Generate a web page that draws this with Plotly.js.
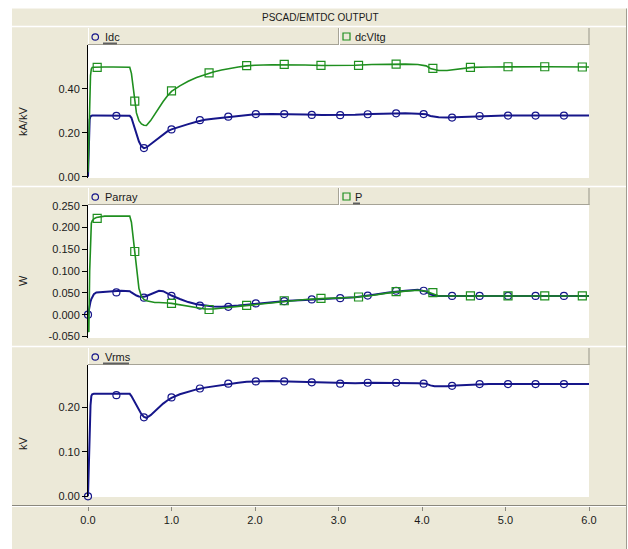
<!DOCTYPE html>
<html><head><meta charset="utf-8">
<script src="https://cdn.plot.ly/plotly-3.0.1.min.js"></script>
<style>html,body{margin:0;padding:0;background:#fff;} #chart{width:628px;height:549px;}</style>
</head><body><div id="chart"></div>
<script>
// ---------- data ----------
const T = [0, 0.01, 0.02, 0.03, 0.04, 0.05, 0.07, 0.1, 0.2, 0.3, 0.4, 0.5,
  0.52, 0.55, 0.58, 0.61, 0.64, 0.67, 0.7, 0.75, 0.8, 0.85, 0.9, 0.95, 1.0,
  1.1, 1.2, 1.3, 1.4, 1.5, 1.6, 1.7, 1.8, 1.9, 2.0, 2.2, 2.4, 2.6, 2.8, 3.0,
  3.2, 3.4, 3.6, 3.8, 3.95, 4.05, 4.1, 4.15, 4.2, 4.3, 4.4, 4.5, 4.6, 4.8, 5.0, 5.5, 6.0];

const Idc = [0.0, 0.17, 0.26, 0.275, 0.278, 0.278, 0.278, 0.278, 0.278, 0.277, 0.277, 0.277,
  0.268, 0.235, 0.195, 0.16, 0.138, 0.13, 0.133, 0.148, 0.165, 0.18, 0.195, 0.206, 0.215,
  0.228, 0.239, 0.25, 0.259, 0.264, 0.268, 0.273, 0.278, 0.282, 0.284, 0.285, 0.285, 0.283, 0.281, 0.28,
  0.282, 0.285, 0.288, 0.288, 0.286, 0.284, 0.276, 0.272, 0.27, 0.269, 0.27, 0.273, 0.275, 0.277, 0.278, 0.278, 0.278];

const dcVltg = [0.02, 0.18, 0.32, 0.46, 0.49, 0.497, 0.498, 0.499, 0.499, 0.499, 0.499, 0.498,
  0.47, 0.37, 0.29, 0.255, 0.24, 0.234, 0.233, 0.255, 0.285, 0.315, 0.342, 0.367, 0.388,
  0.413, 0.434, 0.451, 0.465, 0.476, 0.485, 0.493, 0.499, 0.504, 0.507, 0.509, 0.51, 0.508, 0.506, 0.506,
  0.507, 0.51, 0.512, 0.512, 0.51, 0.504, 0.492, 0.486, 0.483, 0.483, 0.488, 0.494, 0.497, 0.499, 0.5, 0.5, 0.499];

const Parray = [0.0, 0.012, 0.022, 0.03, 0.036, 0.041, 0.047, 0.051, 0.053, 0.054, 0.055, 0.054,
  0.051, 0.047, 0.044, 0.042, 0.041, 0.041, 0.043, 0.047, 0.052, 0.055, 0.054, 0.049, 0.044,
  0.036, 0.029, 0.024, 0.021, 0.019, 0.018, 0.019, 0.021, 0.023, 0.025, 0.029, 0.032, 0.034, 0.036, 0.038,
  0.04, 0.045, 0.051, 0.055, 0.057, 0.053, 0.047, 0.044, 0.043, 0.043, 0.043, 0.043, 0.043, 0.043, 0.043, 0.043, 0.043];

const P = [0.0, -0.04, 0.1, 0.19, 0.21, 0.215, 0.22, 0.223, 0.226, 0.226, 0.226, 0.226,
  0.212, 0.16, 0.11, 0.06, 0.042, 0.035, 0.032, 0.03, 0.028, 0.028, 0.028, 0.027, 0.026,
  0.023, 0.019, 0.016, 0.013, 0.013, 0.015, 0.017, 0.019, 0.021, 0.024, 0.028, 0.032, 0.035, 0.037, 0.039,
  0.04, 0.044, 0.05, 0.054, 0.056, 0.054, 0.05, 0.046, 0.043, 0.043, 0.043, 0.043, 0.043, 0.043, 0.043, 0.043, 0.043];

const Vrms = [0.0, 0.08, 0.17, 0.205, 0.226, 0.23, 0.231, 0.231, 0.231, 0.231, 0.231, 0.231,
  0.226, 0.216, 0.205, 0.194, 0.185, 0.179, 0.177, 0.183, 0.192, 0.201, 0.209, 0.216, 0.222,
  0.23, 0.236, 0.241, 0.245, 0.248, 0.251, 0.254, 0.256, 0.258, 0.259, 0.26, 0.259, 0.258, 0.256, 0.255,
  0.255, 0.256, 0.256, 0.256, 0.255, 0.254, 0.25, 0.248, 0.248, 0.248, 0.25, 0.251, 0.252, 0.253, 0.253, 0.253, 0.253];

// marker samples (circles / squares)
const tCirc = [0.34, 0.67, 1.0, 1.34, 1.68, 2.01, 2.35, 2.68, 3.02, 3.35, 3.69, 4.02, 4.36, 4.69, 5.03, 5.36, 5.70];
const IdcMk = [0.277, 0.13, 0.215, 0.257, 0.273, 0.285, 0.285, 0.281, 0.28, 0.284, 0.288, 0.285, 0.269, 0.276, 0.278, 0.278, 0.278];
const tCirc0 = [0, 0.34, 0.67, 1.0, 1.34, 1.68, 2.01, 2.35, 2.68, 3.02, 3.35, 3.69, 4.02, 4.36, 4.69, 5.03, 5.36, 5.70];
const ParrayMk = [0, 0.051, 0.039, 0.043, 0.021, 0.018, 0.026, 0.031, 0.035, 0.038, 0.044, 0.055, 0.055, 0.043, 0.043, 0.043, 0.043, 0.043];
const VrmsMk = [0, 0.228, 0.178, 0.223, 0.243, 0.254, 0.259, 0.259, 0.257, 0.254, 0.256, 0.256, 0.254, 0.249, 0.253, 0.253, 0.253, 0.253];
const tSq = [0.11, 0.56, 1.0, 1.45, 1.9, 2.35, 2.79, 3.24, 3.69, 4.13, 4.58, 5.03, 5.47, 5.92];
const dcVltgMk = [0.497, 0.344, 0.39, 0.472, 0.505, 0.511, 0.506, 0.506, 0.512, 0.493, 0.497, 0.5, 0.5, 0.499];
const PMk = [0.221, 0.145, 0.026, 0.012, 0.0215, 0.032, 0.0376, 0.0406, 0.0528, 0.0505, 0.043, 0.043, 0.043, 0.043];

// tick labels
const xTicks = [0, 1, 2, 3, 4, 5, 6];
const xLabels = ['0.0', '1.0', '2.0', '3.0', '4.0', '5.0', '6.0'];
const y1Ticks = [0, 0.2, 0.4];
const y1Labels = ['0.00', '0.20', '0.40'];
const y2Ticks = [-0.05, 0, 0.05, 0.1, 0.15, 0.2, 0.25];
const y2Labels = ['-0.050', '0.000', '0.050', '0.100', '0.150', '0.200', '0.250'];
const y3Ticks = [0, 0.1, 0.2];
const y3Labels = ['0.00', '0.10', '0.20'];

// ---------- style ----------
const W = 628, H = 549;
const px = x => x / W, py = y => 1 - y / H;
const BG = '#ECE9D8', BLUE = '#16168a', GREEN = '#1f8f1f', TXT = '#1a1a1a';
const FONT = 'Liberation Sans, Arial, sans-serif';

function lineTr(x, y, ya, color, w) {
  return {x, y, xaxis: 'x', yaxis: ya, type: 'scatter', mode: 'lines',
    line: {color, width: w}, hoverinfo: 'skip', showlegend: false};
}
function mkTr(x, y, ya, color, sym, sz) {
  return {x, y, xaxis: 'x', yaxis: ya, type: 'scatter', mode: 'markers', cliponaxis: false,
    marker: {symbol: sym, size: sz, color, line: {color, width: 1.2}}, hoverinfo: 'skip', showlegend: false};
}

const data = [
  lineTr(T, Idc, 'y', BLUE, 2), mkTr(tCirc, IdcMk, 'y', BLUE, 'circle-open', 7),
  lineTr(T, dcVltg, 'y', GREEN, 1.6), mkTr(tSq, dcVltgMk, 'y', GREEN, 'square-open', 8),
  lineTr(T, Parray, 'y2', BLUE, 2), mkTr(tCirc0, ParrayMk, 'y2', BLUE, 'circle-open', 7),
  lineTr(T, P, 'y2', GREEN, 1.6), mkTr(tSq, PMk, 'y2', GREEN, 'square-open', 8),
  lineTr(T, Vrms, 'y3', BLUE, 2), mkTr(tCirc0, VrmsMk, 'y3', BLUE, 'circle-open', 7)
];

function yax(top, bot, range, tv, tt) {
  return {domain: [py(bot), py(top)], range, anchor: 'x', showline: true, linecolor: '#000', linewidth: 1,
    ticks: 'outside', ticklen: 5, tickcolor: '#000', tickwidth: 1, tickvals: tv, ticktext: tt,
    showgrid: false, zeroline: false, fixedrange: true, automargin: false,
    tickfont: {family: FONT, size: 11, color: TXT}};
}

const shapes = [];
function rect(x0, y0, x1, y1, fill) {
  shapes.push({type: 'rect', xref: 'paper', yref: 'paper', x0: px(x0), x1: px(x1), y0: py(y1), y1: py(y0),
    fillcolor: fill, line: {width: 0}});
}
function ln(x0, y0, x1, y1, color, w) {
  shapes.push({type: 'line', xref: 'paper', yref: 'paper', x0: px(x0), x1: px(x1), y0: py(y0), y1: py(y1),
    line: {color, width: w}});
}
// outer white margins
rect(0, 0, 628, 8.5, '#fff');
rect(0, 0, 12, 549, '#fff');
rect(627, 0, 628, 549, '#fff');
ln(626.5, 8.5, 626.5, 549, '#a09d90', 1);
// separators
ln(12, 26.5, 626, 26.5, '#fff', 1.5);
ln(12, 186.5, 626, 186.5, '#fff', 1.5);
ln(12, 346.5, 626, 346.5, '#fff', 1.5);
ln(12, 505.5, 626, 505.5, '#8a887e', 1);
ln(12, 506.5, 626, 506.5, '#fff', 1);
// legend bars
const bars = [[28, 45, true], [188, 205, true], [348, 365, false]];
bars.forEach(([a, b, div]) => {
  ln(88.5, a, 88.5, b, '#fff', 1);
  ln(88, b - 0.5, 589.5, b - 0.5, '#a6a396', 1);
  ln(589, a, 589, b, '#a6a396', 1.2);
  if (div) {
    ln(338.5, a, 338.5, b, '#a6a396', 1);
    ln(339.5, a, 339.5, b, '#fff', 1);
  }
});
// legend symbols
const legY = [37, 197, 357];
[0, 1, 2].forEach(i => {
  const c = legY[i];
  shapes.push({type: 'circle', xref: 'paper', yref: 'paper', x0: px(92), x1: px(98.5), y0: py(c + 3.2), y1: py(c - 3.2),
    line: {color: BLUE, width: 1.2}, fillcolor: 'rgba(0,0,0,0)'});
});
[0, 1].forEach(i => {
  const c = legY[i] - 0.5;
  shapes.push({type: 'rect', xref: 'paper', yref: 'paper', x0: px(343), x1: px(350), y0: py(c + 3.5), y1: py(c - 3.5),
    line: {color: GREEN, width: 1.2}, fillcolor: 'rgba(0,0,0,0)'});
});
// underlines
ln(103, 43.5, 117, 43.5, '#606060', 2);
ln(353, 203.5, 360, 203.5, '#606060', 2);
ln(103, 363.5, 129, 363.5, '#606060', 2);

const annotations = [];
function txt(x, y, s, opts) {
  annotations.push(Object.assign({xref: 'paper', yref: 'paper', x: px(x), y: py(y), text: s, showarrow: false,
    xanchor: 'left', yanchor: 'middle', font: {family: FONT, size: 11, color: TXT}}, opts || {}));
}
txt(320, 17, 'PSCAD/EMTDC OUTPUT', {xanchor: 'center', font: {family: FONT, size: 10, color: TXT}});
txt(102.5, 37, 'Idc');
txt(353, 37, 'dcVltg');
txt(102.5, 197, 'Parray');
txt(352.5, 196.5, 'P');
txt(102.5, 357, 'Vrms');
txt(23, 122, 'kA/kV', {xanchor: 'center', textangle: -90});
txt(23, 281, 'W', {xanchor: 'center', textangle: -90});
txt(23, 443, 'kV', {xanchor: 'center', textangle: -90});

const layout = {
  width: W, height: H, margin: {l: 0, r: 0, t: 0, b: 0},
  paper_bgcolor: BG, plot_bgcolor: '#fff', showlegend: false,
  font: {family: FONT, size: 11, color: TXT},
  xaxis: {domain: [px(88), px(589)], range: [0, 6], anchor: 'free', position: py(506),
    showline: true, linecolor: '#8a887e', linewidth: 1, ticks: 'outside', ticklen: 4, tickcolor: '#8a887e',
    tickvals: xTicks, ticktext: xLabels, showgrid: false, zeroline: false, fixedrange: true, automargin: false,
    tickfont: {family: FONT, size: 11, color: TXT}},
  yaxis: yax(45, 178, [-0.006, 0.599], y1Ticks, y1Labels),
  yaxis2: yax(205, 338, [-0.0534, 0.2516], y2Ticks, y2Labels),
  yaxis3: yax(365, 497, [-0.0016, 0.296], y3Ticks, y3Labels),
  shapes, annotations
};

Plotly.newPlot('chart', data, layout, {displayModeBar: false, staticPlot: true});
</script></body></html>
